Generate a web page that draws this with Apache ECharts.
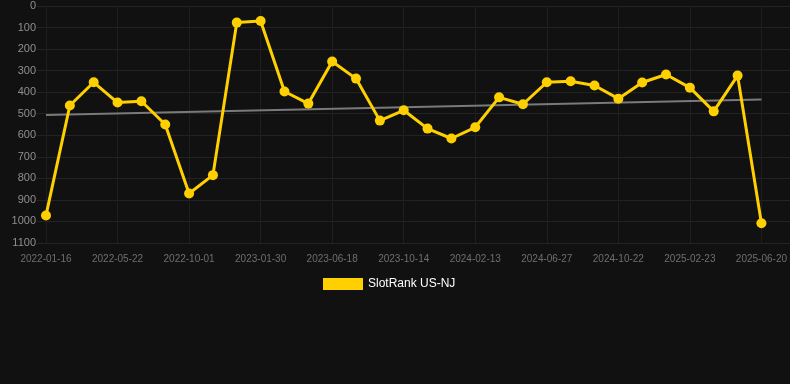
<!DOCTYPE html>
<html>
<head>
<meta charset="utf-8">
<title>SlotRank US-NJ</title>
<script src="https://cdn.jsdelivr.net/npm/echarts@6/dist/echarts.min.js"></script>
<style>
  html, body { margin: 0; padding: 0; background: #111111; }
  #chart { width: 790px; height: 384px; }
</style>
</head>
<body>
<div id="chart"></div>
<script>
// rank data, one point per date (only every 3rd date is labelled)
var dates = [
  '2022-01-16', '2022-02-27', '2022-04-10', '2022-05-22', '2022-07-03', '2022-08-17',
  '2022-10-01', '2022-11-10', '2022-12-20', '2023-01-30', '2023-03-16', '2023-05-02',
  '2023-06-18', '2023-07-27', '2023-09-04', '2023-10-14', '2023-11-24', '2024-01-03',
  '2024-02-13', '2024-03-29', '2024-05-13', '2024-06-27', '2024-08-05', '2024-09-13',
  '2024-10-22', '2024-12-02', '2025-01-12', '2025-02-23', '2025-04-03', '2025-05-12',
  '2025-06-20'
];
var ranks = [
  972, 462, 354, 448, 442, 550,
  870, 785, 77, 70, 397, 453,
  258, 337, 532, 484, 569, 615,
  563, 424, 456, 354, 349, 369,
  430, 355, 318, 379, 489, 323,
  1008
];
// trend line end points [index, rank]
var trend = [[0, 506], [30, 434]];

var font = 'Liberation Sans, Arial, sans-serif';
var myChart = echarts.init(document.getElementById('chart'));
var option = {
  backgroundColor: '#111111',
  animation: false,
  grid: [
    // plot area for the marks
    { left: 46, right: 28, top: 6, bottom: 141, containLabel: false },
    // wider area, only for the horizontal grid lines
    { left: 37, right: 0, top: 6, bottom: 141, containLabel: false }
  ],
  legend: {
    top: 273,
    left: 318,
    icon: 'rect',
    itemWidth: 40,
    itemHeight: 12,
    data: ['SlotRank US-NJ'],
    textStyle: { color: '#ffffff', fontSize: 12, fontFamily: font }
  },
  xAxis: [
    {
      type: 'category',
      gridIndex: 0,
      boundaryGap: false,
      data: dates,
      axisLine: { show: false },
      axisTick: { show: false },
      axisLabel: {
        interval: 2,
        color: '#6f6f6f',
        fontSize: 10,
        margin: 11,
        fontFamily: font
      },
      splitLine: {
        show: true,
        interval: 2,
        lineStyle: { color: '#1f1f1f', width: 1 }
      }
    },
    {
      type: 'value',
      gridIndex: 1,
      min: 0,
      max: 1,
      show: false
    }
  ],
  yAxis: [
    {
      type: 'value',
      gridIndex: 0,
      inverse: true,
      min: 0,
      max: 1100,
      interval: 100,
      axisLine: { show: false },
      axisTick: { show: false },
      axisLabel: {
        color: '#8f8f8f',
        fontSize: 11,
        margin: 10,
        fontFamily: font,
        formatter: function (v) { return String(v); }
      },
      splitLine: { show: false }
    },
    {
      type: 'value',
      gridIndex: 1,
      inverse: true,
      min: 0,
      max: 1100,
      interval: 100,
      axisLine: { show: false },
      axisTick: { show: false },
      axisLabel: { show: false },
      splitLine: {
        show: true,
        lineStyle: { color: '#232323', width: 1 }
      }
    }
  ],
  series: [
    {
      name: 'SlotRank US-NJ',
      type: 'line',
      xAxisIndex: 0,
      yAxisIndex: 0,
      data: ranks,
      symbol: 'circle',
      symbolSize: 10,
      z: 3,
      lineStyle: { color: '#ffd000', width: 3 },
      itemStyle: { color: '#ffd000' }
    },
    {
      name: 'trend',
      type: 'line',
      xAxisIndex: 0,
      yAxisIndex: 0,
      data: trend,
      symbol: 'none',
      z: 2,
      lineStyle: { color: '#7a7a7a', width: 2 }
    }
  ]
};
myChart.setOption(option);
</script>
</body>
</html>
